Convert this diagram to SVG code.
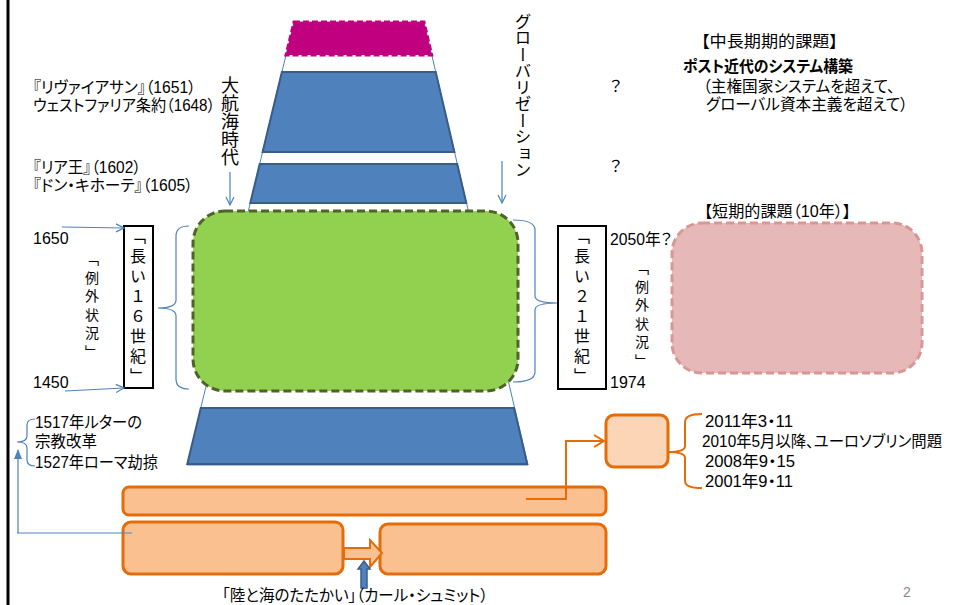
<svg xmlns="http://www.w3.org/2000/svg" width="953" height="605" viewBox="0 0 953 605">
<style>
.t{font-family:"Liberation Sans","Noto Sans CJK JP",sans-serif;font-size:16px;fill:#000;font-feature-settings:"palt"}
.b{font-weight:bold}
.v{font-family:"Noto Sans CJK JP",sans-serif;writing-mode:vertical-rl;fill:#000}
.blue{fill:#4F81BD;stroke:#385D8A;stroke-width:2}
.thin{fill:none;stroke:#4F81BD;stroke-width:1.2}
.orect{fill:#FAC090;stroke:#E46C0A;stroke-width:3}
.oline{fill:none;stroke:#E46C0A;stroke-width:2}
</style>
<defs>
<marker id="open" markerWidth="10" markerHeight="10" refX="9" refY="5" orient="auto" markerUnits="userSpaceOnUse">
<path d="M1,1 L9,5 L1,9" fill="none" stroke="#4F81BD" stroke-width="1.2"/>
</marker>
<marker id="filled" markerWidth="10" markerHeight="10" refX="9" refY="5" orient="auto" markerUnits="userSpaceOnUse">
<path d="M0,1 L10,5 L0,9 Z" fill="#4F81BD"/>
</marker>
<marker id="oopen" markerWidth="14" markerHeight="14" refX="12" refY="7" orient="auto" markerUnits="userSpaceOnUse">
<path d="M2,1 L12,7 L2,13" fill="none" stroke="#E46C0A" stroke-width="2"/>
</marker>
</defs>
<rect width="953" height="605" fill="#fff"/>
<line x1="8" y1="0" x2="8" y2="605" stroke="#000" stroke-width="3"/>

<g id="outline">
<polygon points="294,22 424,22 528,465 187,465" fill="none" stroke="#4F81BD" stroke-width="1"/>
</g>
<g id="magenta">
<polygon points="294,22 424,22 431.7,55 286,55" fill="#C0007F" stroke="#C0007F" stroke-width="3" stroke-dasharray="6,3"/>
</g>
<g id="trap1"><polygon class="blue" points="281.9,72 435.7,72 454.4,152 262.6,152"/></g>
<g id="trap2"><polygon class="blue" points="259.7,164 457.2,164 466.3,203 250.3,203"/></g>
<g id="green"><rect x="193" y="211" width="325" height="180" rx="32" fill="#92D050" stroke="#4F6228" stroke-width="3" stroke-dasharray="8,4"/></g>
<g id="trap3"><polygon class="blue" points="200.8,408 514.1,408 527.2,464 187.3,464"/></g>
<g id="pink"><rect x="672" y="223" width="250" height="150" rx="30" fill="#E6B9B8" stroke="#D99694" stroke-width="3" stroke-dasharray="8,4"/></g>

<g id="box16">
<rect x="124" y="226" width="29" height="162" fill="#fff" stroke="#000" stroke-width="2"/>
<text class="v" x="138" y="228" font-size="16" letter-spacing="4">「長い１６世紀」</text>
</g>
<g id="box21">
<rect x="558" y="226" width="48" height="163" fill="#fff" stroke="#000" stroke-width="2"/>
<text class="v" x="582" y="228" font-size="16" letter-spacing="4">「長い２１世紀」</text>
</g>
<g id="exc-left"><text class="v" x="92" y="252" font-size="14" letter-spacing="4.5">「例外状況」</text></g>
<g id="exc-right"><text class="v" x="642" y="261" font-size="14" letter-spacing="4.5">「例外状況」</text></g>
<g id="daikoukai"><text class="v" x="230" y="76" font-size="18">大航海時代</text></g>
<g id="global"><text class="v" x="523" y="13" font-size="16.5">グローバリゼーション</text></g>

<g id="rectA"><rect class="orect" x="123" y="487" width="483" height="28" rx="6"/></g>
<g id="rectB"><rect class="orect" x="123" y="522" width="220" height="52" rx="8"/></g>
<g id="rectC"><rect class="orect" x="380" y="524" width="226" height="50" rx="8"/></g>
<g id="rectD"><rect x="606" y="415" width="62" height="52" rx="8" fill="#FBD5B5" stroke="#E46C0A" stroke-width="3"/></g>

<g id="connectors">
<line class="thin" x1="230" y1="172" x2="230" y2="205" marker-end="url(#open)"/>
<line class="thin" x1="502" y1="161" x2="502" y2="203" marker-end="url(#open)"/>
<line class="thin" x1="62" y1="227" x2="124" y2="228" marker-end="url(#open)"/>
<line class="thin" x1="65" y1="391" x2="124" y2="388" marker-end="url(#open)"/>
<path class="thin" d="M189,226 Q176,226 176,236 L176,300 Q176,308 158,308 Q176,308 176,316 L176,379 Q176,389 189,389"/>
<path class="thin" d="M513,220 Q535,220 535,230 L535,296 Q535,303 557,303 Q535,303 535,310 L535,372 Q535,382 513,382"/>
<path class="thin" d="M35,419 Q27,419 27,425 L27,436 Q27,442 17,442 Q27,442 27,448 L27,460 Q27,466 35,466"/>
<line class="thin" x1="18" y1="533" x2="18" y2="450" marker-end="url(#filled)"/>
<line class="thin" x1="17" y1="533" x2="132" y2="533"/>
<path class="oline" d="M702,414 Q685,414 685,422 L685,446 Q685,452 668,452 Q685,452 685,458 L685,481 Q685,488 702,488"/>
<path class="oline" d="M526,499 L566,499 L566,441 L604,441" marker-end="url(#oopen)"/>
<polygon points="344,548 370,548 370,540 382,553 370,567 370,559 344,559" fill="#FAC090" stroke="#E46C0A" stroke-width="2"/>
<polygon points="364,561 370,569 367,569 367,588 361,588 361,569 358,569" fill="#4F81BD" stroke="#385D8A" stroke-width="1.5"/>
</g>

<g id="labels">
<text class="t" x="33" y="93" textLength="163" lengthAdjust="spacingAndGlyphs">『リヴァイアサン』（1651）</text>
<text class="t" x="33" y="111" textLength="182" lengthAdjust="spacingAndGlyphs">ウェストファリア条約（1648）</text>
<text class="t" x="33" y="173" textLength="108" lengthAdjust="spacingAndGlyphs">『リア王』（1602）</text>
<text class="t" x="33" y="191" textLength="160" lengthAdjust="spacingAndGlyphs">『ドン・キホーテ』（1605）</text>
<text class="t" x="701" y="47" textLength="137" lengthAdjust="spacingAndGlyphs">【中長期期的課題】</text>
<text class="t b" x="683" y="72" textLength="170" lengthAdjust="spacingAndGlyphs">ポスト近代のシステム構築</text>
<text class="t" x="703" y="92" textLength="192" lengthAdjust="spacingAndGlyphs">（主権国家システムを超えて、</text>
<text class="t" x="706" y="110" textLength="202" lengthAdjust="spacingAndGlyphs">グローバル資本主義を超えて）</text>
<text class="t" x="610" y="92">？</text>
<text class="t" x="610" y="172">？</text>
<text class="t" x="704" y="217" textLength="147" lengthAdjust="spacingAndGlyphs">【短期的課題（10年）】</text>
<text class="t" x="33" y="244">1650</text>
<text class="t" x="33" y="388">1450</text>
<text class="t" x="610" y="245" textLength="62" lengthAdjust="spacingAndGlyphs">2050年？</text>
<text class="t" x="610" y="388">1974</text>
<text class="t" x="35" y="428" textLength="107" lengthAdjust="spacingAndGlyphs">1517年ルターの</text>
<text class="t" x="35" y="447" textLength="62" lengthAdjust="spacingAndGlyphs">宗教改革</text>
<text class="t" x="35" y="468" textLength="123" lengthAdjust="spacingAndGlyphs">1527年ローマ劫掠</text>
<text class="t" x="705" y="427" textLength="88" lengthAdjust="spacingAndGlyphs">2011年3・11</text>
<text class="t" x="702" y="447" font-size="14" textLength="240" lengthAdjust="spacingAndGlyphs">2010年5月以降、ユーロソブリン問題</text>
<text class="t" x="705" y="467" textLength="90" lengthAdjust="spacingAndGlyphs">2008年9・15</text>
<text class="t" x="705" y="487" textLength="88" lengthAdjust="spacingAndGlyphs">2001年9・11</text>
<text class="t" x="222" y="601" textLength="266" lengthAdjust="spacingAndGlyphs">「陸と海のたたかい」（カール・シュミット）</text>
<text x="903" y="597" font-family="Liberation Sans, sans-serif" font-size="14" fill="#898989">2</text>
</g>
</svg>
